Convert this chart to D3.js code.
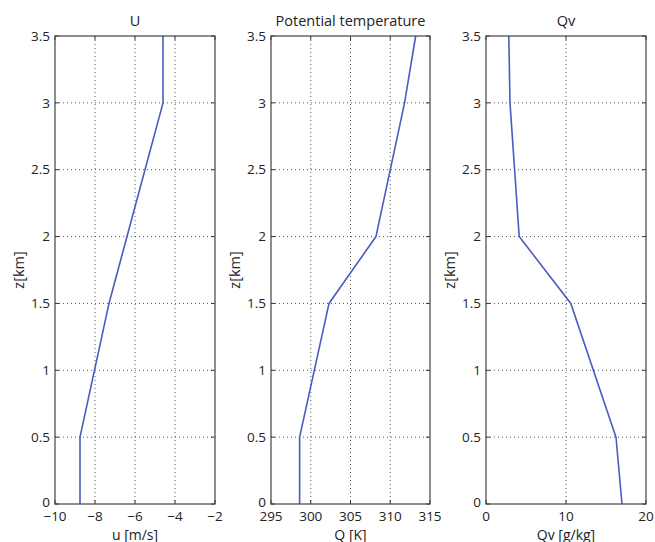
<!DOCTYPE html>
<html><head><meta charset="utf-8">
<script src="https://cdn.jsdelivr.net/npm/d3@7"></script>
<style>body{margin:0;background:#fff}svg{display:block}text{font-family:"Open Sans",sans-serif;fill:#222}</style>
</head><body>
<script>
const zLevels = [0, 0.5, 1.5, 2, 3, 3.5];
const uValues = [-8.75, -8.75, -7.3, -6.4, -4.6, -4.6];
const thetaValues = [298.6, 298.6, 302.3, 308.2, 311.8, 313.2];
const qvValues = [17.0, 16.25, 10.6, 4.15, 3.0, 2.85];

const yTicks = [0, 0.5, 1, 1.5, 2, 2.5, 3, 3.5];
const uTicks = [-10, -8, -6, -4, -2];
const thetaTicks = [295, 300, 305, 310, 315];
const qvTicks = [0, 10, 20];

(function () {
const panels = [
  {title: "U", xlabel: "u [m/s]", domain: [-10, -2], ticks: uTicks, values: uValues, x0: 55, x1: 215},
  {title: "Potential temperature", xlabel: "Q [K]", domain: [295, 315], ticks: thetaTicks, values: thetaValues, x0: 271, x1: 430},
  {title: "Qv", xlabel: "Qv [g/kg]", domain: [0, 20], ticks: qvTicks, values: qvValues, x0: 486, x1: 646}
];

const W = 655, H = 542, yTop = 36, yBot = 504;
const svg = d3.select("body").append("svg").attr("width", W).attr("height", H);
const y = d3.scaleLinear().domain([0, 3.5]).range([yBot, yTop]);
const fmt = d => (d < 0 ? "\u2212" + Math.abs(d) : String(d));

panels.forEach(p => {
  const x = d3.scaleLinear().domain(p.domain).range([p.x0, p.x1]);
  const g = svg.append("g");
  g.selectAll(".gx").data(p.ticks.slice(1, -1)).join("line")
    .attr("x1", d => x(d)).attr("x2", d => x(d)).attr("y1", yTop).attr("y2", yBot)
    .attr("stroke", "#555").attr("stroke-width", 1).attr("stroke-dasharray", "1,3");
  g.selectAll(".gy").data(yTicks.slice(1, -1)).join("line")
    .attr("x1", p.x0).attr("x2", p.x1).attr("y1", d => y(d)).attr("y2", d => y(d))
    .attr("stroke", "#555").attr("stroke-width", 1).attr("stroke-dasharray", "1,3");
  const tl = 4;
  yTicks.forEach(t => {
    g.append("line").attr("x1", p.x0).attr("x2", p.x0 + tl).attr("y1", y(t)).attr("y2", y(t)).attr("stroke", "#333");
    g.append("line").attr("x1", p.x1).attr("x2", p.x1 - tl).attr("y1", y(t)).attr("y2", y(t)).attr("stroke", "#333");
  });
  p.ticks.forEach(t => {
    g.append("line").attr("x1", x(t)).attr("x2", x(t)).attr("y1", yBot).attr("y2", yBot - tl).attr("stroke", "#333");
    g.append("line").attr("x1", x(t)).attr("x2", x(t)).attr("y1", yTop).attr("y2", yTop + tl).attr("stroke", "#333");
  });
  const line = d3.line().x(d => x(d[0])).y(d => y(d[1]));
  g.append("path").datum(p.values.map((v, i) => [v, zLevels[i]]))
    .attr("d", line).attr("fill", "none").attr("stroke", "#4a5cc2").attr("stroke-width", 1.6);
  g.append("rect").attr("x", p.x0).attr("y", yTop).attr("width", p.x1 - p.x0).attr("height", yBot - yTop)
    .attr("fill", "none").attr("stroke", "#444").attr("stroke-width", 1.2);
  g.selectAll(".yl").data(yTicks).join("text")
    .attr("x", p.x0 - 5).attr("y", d => y(d) - (d === 0 ? 2 : 0)).attr("dy", "0.35em").attr("text-anchor", "end")
    .attr("font-size", 13.5).text(d => d);
  g.selectAll(".xl").data(p.ticks).join("text")
    .attr("x", d => x(d)).attr("y", yBot + 17).attr("text-anchor", "middle")
    .attr("font-size", 13.5).text(fmt);
  g.append("text").attr("x", (p.x0 + p.x1) / 2).attr("y", 26).attr("text-anchor", "middle")
    .attr("font-size", 14.5).text(p.title);
  g.append("text").attr("x", (p.x0 + p.x1) / 2).attr("y", 539.5).attr("text-anchor", "middle")
    .attr("font-size", 14).text(p.xlabel);
  g.append("text").attr("transform", `translate(${p.x0 - 31},${(yTop + yBot) / 2}) rotate(-90)`)
    .attr("text-anchor", "middle").attr("font-size", 14.5).text("z[km]");
});
})();
</script>
</body></html>
